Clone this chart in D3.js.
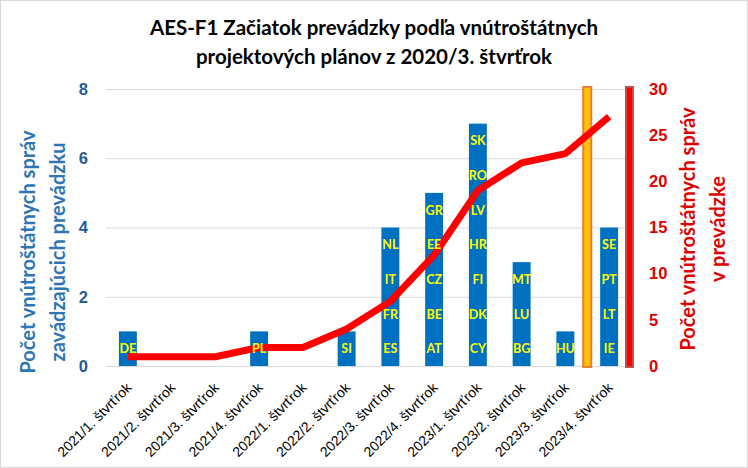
<!DOCTYPE html>
<html>
<head>
<meta charset="utf-8">
<script src="https://cdn.jsdelivr.net/npm/d3@7"></script>
<style>
  body { margin: 0; background: #fff; }
  svg { font-family: Lato, "Liberation Sans", sans-serif; }
</style>
</head>
<body>
<div id="chart"></div>
<script>
// data
var categories = ["2021/1. štvrťrok", "2021/2. štvrťrok", "2021/3. štvrťrok", "2021/4. štvrťrok",
  "2022/1. štvrťrok", "2022/2. štvrťrok", "2022/3. štvrťrok", "2022/4. štvrťrok",
  "2023/1. štvrťrok", "2023/2. štvrťrok", "2023/3. štvrťrok", "2023/4. štvrťrok"];
var barValues = [1, 0, 0, 1, 0, 1, 4, 5, 7, 3, 1, 4];
var countryLabels = [["DE"], [], [], ["PL"], [], ["SI"], ["ES", "FR", "IT", "NL"],
  ["AT", "BE", "CZ", "EE", "GR"], ["CY", "DK", "FI", "HR", "LV", "RO", "SK"],
  ["BG", "LU", "MT"], ["HU"], ["IE", "LT", "PT", "SE"]];
var lineValues = [1, 1, 1, 2, 2, 4, 7, 12, 19, 22, 23, 27];
var leftTicks = [0, 2, 4, 6, 8];
var rightTicks = [0, 5, 10, 15, 20, 25, 30];
var titleLines = ["AES-F1 Začiatok prevádzky podľa vnútroštátnych", "projektových plánov z 2020/3. štvrťrok"];
var leftTitle = ["Počet vnútroštátnych správ", "zavádzajúcich prevádzku"];
var rightTitle = ["Počet vnútroštátnych správ", "v prevádzke"];

var svgWidth = 748, svgHeight = 468;
var plot = { left: 106, right: 631, top: 89, bottom: 366 };

var svg = d3.select("#chart").append("svg")
  .attr("width", svgWidth)
  .attr("height", svgHeight);

svg.append("rect")
  .attr("x", 0.5).attr("y", 0.5)
  .attr("width", svgWidth - 1).attr("height", svgHeight - 1)
  .attr("fill", "#fff").attr("stroke", "#d9d9d9");

var x = d3.scaleBand().domain(categories).range([plot.left, plot.right]).padding(0);
var y = d3.scaleLinear().domain([0, 8]).range([plot.bottom, plot.top]);
var y2 = d3.scaleLinear().domain([0, 30]).range([plot.bottom, plot.top]);

// gridlines
svg.append("g")
  .selectAll("line")
  .data(leftTicks)
  .enter().append("line")
  .attr("x1", plot.left).attr("x2", plot.right)
  .attr("y1", function(d) { return y(d) + 0.5; })
  .attr("y2", function(d) { return y(d) + 0.5; })
  .attr("stroke", "#d9d9d9");

// left axis
var gl = svg.append("g")
  .attr("transform", "translate(" + plot.left + ",0)")
  .call(d3.axisLeft(y).tickValues(leftTicks).tickSize(0).tickPadding(18));
gl.select(".domain").remove();
gl.selectAll("text")
  .attr("fill", "#1f5c99")
  .style("font-size", "16.5px")
  .style("font-weight", "900");

// right axis
var gr = svg.append("g")
  .attr("transform", "translate(" + plot.right + ",0)")
  .call(d3.axisRight(y2).tickValues(rightTicks).tickSize(0).tickPadding(18));
gr.select(".domain").remove();
gr.selectAll("text")
  .attr("fill", "#e00000")
  .style("font-size", "16.5px")
  .style("font-weight", "900");

// category axis
var gx = svg.append("g")
  .attr("transform", "translate(0," + (plot.bottom + 10) + ")")
  .call(d3.axisBottom(x).tickSize(0).tickPadding(0));
gx.select(".domain").remove();
gx.selectAll("text")
  .style("text-anchor", "end")
  .style("font-size", "14px")
  .attr("fill", "#000")
  .attr("dy", "0.35em")
  .attr("transform", "translate(1,9) rotate(-45)");

// bars
var barW = x.bandwidth() * 0.41;
svg.selectAll(".bar")
  .data(barValues)
  .enter().append("rect")
  .attr("class", "bar")
  .attr("x", function(d, i) { return x(categories[i]) + (x.bandwidth() - barW) / 2; })
  .attr("y", function(d) { return y(d); })
  .attr("width", barW)
  .attr("height", function(d) { return y(0) - y(d); })
  .attr("fill", "#0070c0");

// vertical markers
var markX = x(categories[11]);
svg.append("rect")
  .attr("x", markX - 4).attr("y", plot.top - 2)
  .attr("width", 8).attr("height", plot.bottom - plot.top + 3)
  .attr("fill", "#ffc000").attr("stroke", "#ed7d31").attr("stroke-width", 2);
svg.append("rect")
  .attr("x", plot.right - 5).attr("y", plot.top - 2)
  .attr("width", 7).attr("height", plot.bottom - plot.top + 3)
  .attr("fill", "#ff0000").attr("stroke", "#c0504d").attr("stroke-width", 2);

// cumulative line
var line = d3.line()
  .x(function(d, i) { return x(categories[i]) + x.bandwidth() / 2; })
  .y(function(d) { return y2(d); });
svg.append("path")
  .datum(lineValues)
  .attr("d", line)
  .attr("fill", "none")
  .attr("stroke", "#ff0000")
  .attr("stroke-width", 7)
  .attr("stroke-linejoin", "round");

// country labels inside bars
countryLabels.forEach(function(list, i) {
  svg.selectAll(".lbl" + i)
    .data(list)
    .enter().append("text")
    .attr("x", x(categories[i]) + x.bandwidth() / 2)
    .attr("y", function(d, k) { return y(k + 0.5); })
    .attr("dy", "0.36em")
    .attr("text-anchor", "middle")
    .attr("fill", "#ffff00")
    .style("font-size", "12.5px")
    .style("font-weight", "bold")
    .text(function(d) { return d; });
});

// title
svg.append("g").selectAll("text")
  .data(titleLines)
  .enter().append("text")
  .attr("x", svgWidth / 2)
  .attr("y", function(d, i) { return 35 + i * 29; })
  .attr("text-anchor", "middle")
  .attr("fill", "#000")
  .style("font-size", "20.5px")
  .style("font-weight", "bold")
  .text(function(d) { return d; });

// axis titles
svg.append("g").selectAll("text")
  .data(leftTitle)
  .enter().append("text")
  .attr("transform", function(d, i) { return "translate(" + (35 + i * 30) + ",252) rotate(-90)"; })
  .attr("text-anchor", "middle")
  .attr("fill", "#2e75b6")
  .style("font-size", "20px")
  .style("font-weight", "bold")
  .text(function(d) { return d; });

svg.append("g").selectAll("text")
  .data(rightTitle)
  .enter().append("text")
  .attr("transform", function(d, i) { return "translate(" + (695 + i * 30) + ",229) rotate(-90)"; })
  .attr("text-anchor", "middle")
  .attr("fill", "#e00000")
  .style("font-size", "20px")
  .style("font-weight", "bold")
  .text(function(d) { return d; });
</script>
</body>
</html>
